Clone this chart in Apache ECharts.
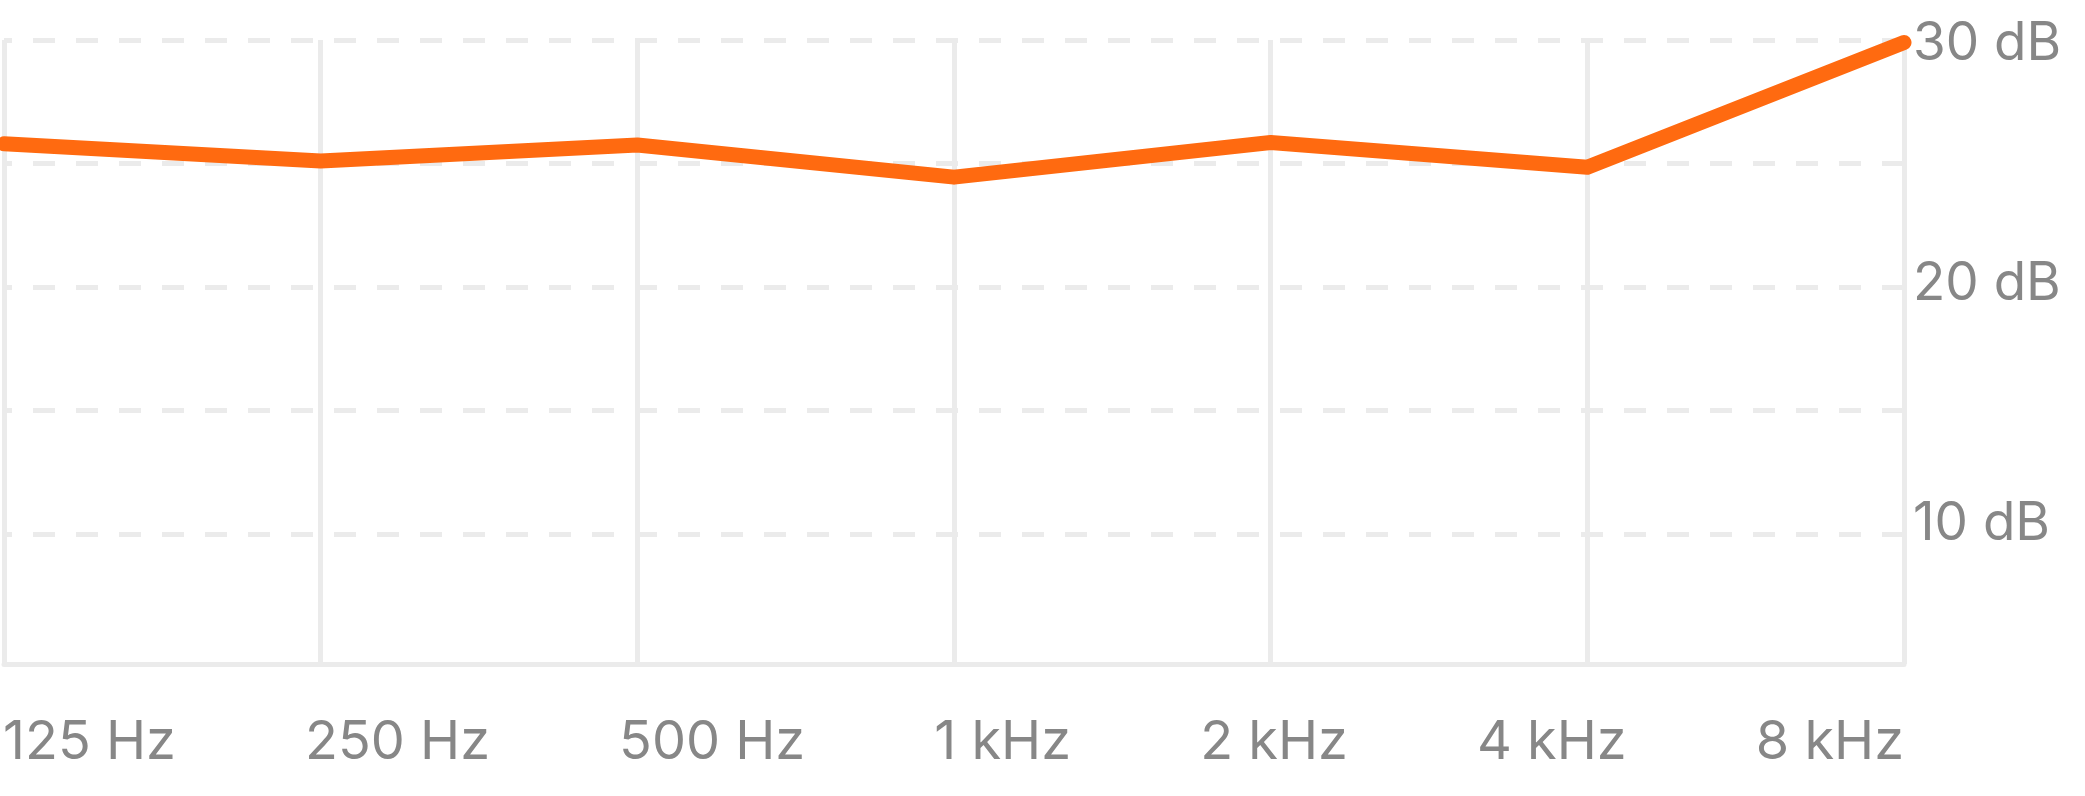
<!DOCTYPE html>
<html><head><meta charset="utf-8">
<script src="https://cdn.jsdelivr.net/npm/echarts@6/dist/echarts.min.js"></script>
<style>html,body{margin:0;padding:0;background:#fff}#c{width:2085px;height:796px}</style>
</head><body><div id="c"></div>
<script>
const categories = ['125 Hz', '250 Hz', '500 Hz', '1 kHz', '2 kHz', '4 kHz', '8 kHz'];
const thresholds = [25.8, 25.1, 25.75, 24.45, 25.85, 24.85, 29.9];
const gridValues = [10, 15, 20, 25, 30];
const yLabelValues = [10, 20, 30];

const W = 2085;
const gridLeft = 3, gridRight = 181, gridTop = 40, gridBottom = 132;
const FONT = 'Inter, "Noto Sans", sans-serif';
const xFont = 54, yFont = 53;
const textColor = '#878787', gridColor = '#ebebeb', lineColor = '#ff6a10';

// lay the x labels out "space-between" across the plot, as in the reference
const ctx = document.createElement('canvas').getContext('2d');
ctx.font = xFont + 'px ' + FONT;
const widths = categories.map(c => ctx.measureText(c).width);
const L = gridLeft, R = W - gridRight, n = categories.length;
const step = (R - L) / (n - 1);
const startX = L - 1, endX = R;
const gap = (endX - startX - widths.reduce((a, b) => a + b, 0)) / (n - 1);
const rich = {};
let edge = startX;
categories.forEach((c, i) => {
  const center = edge + widths[i] / 2;
  const d = center - (L + i * step);
  rich['l' + i] = {
    fontSize: xFont, fontFamily: FONT, color: textColor,
    padding: d > 0 ? [0, 0, 0, 2 * d] : [0, -2 * d, 0, 0]
  };
  edge += widths[i] + gap;
});

const chart = echarts.init(document.getElementById('c'), null, {renderer: 'canvas'});
chart.setOption({
  animation: false,
  backgroundColor: '#ffffff',
  grid: {left: gridLeft, right: gridRight, top: gridTop, bottom: gridBottom, containLabel: false},
  xAxis: {
    type: 'category',
    data: categories,
    boundaryGap: false,
    axisLine: {show: true, lineStyle: {color: gridColor, width: 5}},
    axisTick: {show: false},
    splitLine: {show: true, lineStyle: {color: gridColor, width: 5, type: 'solid'}},
    axisLabel: {
      interval: 0,
      margin: 52,
      formatter: (v, i) => '{l' + i + '|' + v + '}',
      rich: rich
    }
  },
  yAxis: [
    {
      type: 'value', position: 'right', min: 4.75, max: 30,
      axisLine: {show: false}, axisTick: {show: false},
      splitLine: {show: false}, axisLabel: {show: false}
    },
    {
      type: 'value', position: 'right', min: 4.1667, max: 30.1667,
      axisLine: {show: false}, axisTick: {show: false}, splitLine: {show: false},
      axisLabel: {
        show: true, margin: 9, color: textColor, fontSize: yFont, fontFamily: FONT,
        formatter: v => {
          const r = Math.round(v);
          return (Math.abs(v - r) < 1e-6 && yLabelValues.indexOf(r) >= 0) ? r + ' dB' : '';
        }
      }
    }
  ],
  series: [
    {
      type: 'line', yAxisIndex: 0, data: [], z: 1, silent: true,
      markLine: {
        z: 1, silent: true, symbol: ['none', 'none'], label: {show: false},
        emphasis: {disabled: true},
        lineStyle: {color: gridColor, width: 5, type: [22, 21], dashOffset: 14},
        data: gridValues.map(v => ({yAxis: v}))
      }
    },
    {
      type: 'line', yAxisIndex: 0, data: thresholds, z: 3,
      symbol: 'none', silent: true,
      lineStyle: {color: lineColor, width: 15, cap: 'round', join: 'round'}
    }
  ]
});
</script>
</body></html>
